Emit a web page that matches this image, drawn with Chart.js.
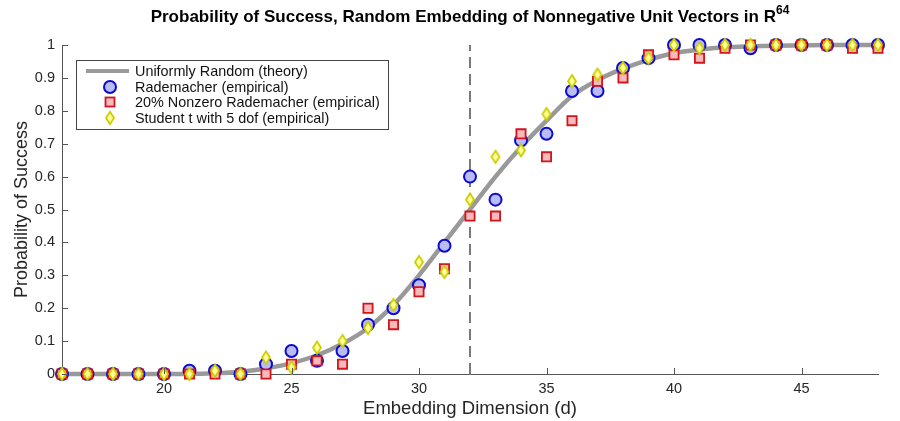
<!DOCTYPE html>
<html>
<head>
<meta charset="utf-8">
<script src="https://cdn.jsdelivr.net/npm/chart.js@4"></script>
<style>
  html, body { margin: 0; padding: 0; background: #fff; }
  #wrap { position: relative; width: 900px; height: 421px; }
  #title {
    position: absolute; left: 0; top: 1px; width: 940px; text-align: center;
    font: bold 17px "Liberation Sans", Arial, sans-serif; color: #000; line-height: 20px;
  }
  #title sup { font-size: 12px; position: relative; top: -1px; }
</style>
</head>
<body>
<div id="wrap">
  <div id="title">Probability of Success, Random Embedding of Nonnegative Unit Vectors in R<sup>64</sup></div>
  <canvas id="chart" width="900" height="421"></canvas>
</div>
<script>
// -------- Data --------
const dims = [16,17,18,19,20,21,22,23,24,25,26,27,28,29,30,31,32,33,34,35,36,37,38,39,40,41,42,43,44,45,46,47,48];
const theory = [0,0,0,0,0,0,0.002,0.007,0.017,0.033,0.057,0.092,0.14,0.21,0.3,0.4,0.5,0.6,0.69,0.77,0.845,0.893,0.928,0.955,0.975,0.986,0.993,0.996,0.998,0.999,1,1,1];
const rademacher = [0,0,0,0,0,0.01,0.01,0,0.03,0.07,0.04,0.07,0.15,0.2,0.27,0.39,0.6,0.53,0.71,0.73,0.86,0.86,0.93,0.96,1,1,1,0.99,1,1,1,1,1];
const sparseRademacher = [0,0,0,0,0,0,0,0,0,0.03,0.04,0.03,0.2,0.15,0.25,0.32,0.48,0.48,0.73,0.66,0.77,0.89,0.9,0.97,0.97,0.96,0.99,1,1,1,1,0.99,0.99];
const studentT = [0,0,0,0,0,0,0.01,0,0.05,0.02,0.08,0.1,0.14,0.21,0.34,0.31,0.53,0.66,0.68,0.79,0.89,0.91,0.93,0.96,1,0.99,1,1,1,1,1,1,1];
const xTicks = [20,25,30,35,40,45];
const yTicks = [0,0.1,0.2,0.3,0.4,0.5,0.6,0.7,0.8,0.9,1];
const criticalDim = 32;

const seriesNames = [
    "Uniformly Random (theory)",
    "Rademacher (empirical)",
    "20% Nonzero Rademacher (empirical)",
    "Student t with 5 dof (empirical)"
];

// -------- Styles --------
const FONT = '"Liberation Sans", Arial, sans-serif';
const circleFill = "#b9bbf4", circleEdge = "#0a0ad0";
const squareFill = "#f7b9bb", squareEdge = "#d0161c";
const diamondFill = "#ffff9a", diamondEdge = "#cccc00";

// narrow diamond marker
function makeDiamond() {
    const c = document.createElement("canvas");
    c.width = 12; c.height = 16;
    const g = c.getContext("2d");
    g.beginPath();
    g.moveTo(6, 1.8); g.lineTo(10, 8); g.lineTo(6, 14.2); g.lineTo(2, 8); g.closePath();
    g.fillStyle = diamondFill; g.fill();
    g.lineWidth = 1.8; g.strokeStyle = diamondEdge; g.stroke();
    return c;
}
const diamondImg = makeDiamond();

const toPts = arr => arr.map((v, i) => ({ x: dims[i], y: v }));

// -------- Plugins --------
const innerTicks = {
    id: "innerTicks",
    afterDraw(chart) {
        const { ctx, chartArea, scales } = chart;
        ctx.save();
        ctx.strokeStyle = "#555";
        ctx.lineWidth = 1;
        yTicks.forEach(v => {
            const y = Math.round(scales.y.getPixelForValue(v)) + 0.5;
            ctx.beginPath(); ctx.moveTo(chartArea.left, y); ctx.lineTo(chartArea.left + 6, y); ctx.stroke();
        });
        xTicks.forEach(v => {
            const x = Math.round(scales.x.getPixelForValue(v)) + 0.5;
            ctx.beginPath(); ctx.moveTo(x, chartArea.bottom); ctx.lineTo(x, chartArea.bottom - 6); ctx.stroke();
        });
        ctx.restore();
    }
};

const boxLegend = {
    id: "boxLegend",
    afterDraw(chart) {
        const ctx = chart.ctx;
        const left = 76, top = 60, w = 312, h = 69;
        ctx.save();
        ctx.fillStyle = "#fff";
        ctx.fillRect(left, top, w, h);
        ctx.strokeStyle = "#444";
        ctx.lineWidth = 1;
        ctx.strokeRect(left + 0.5, top + 0.5, w, h);

        const rows = [71, 87, 102, 118];
        const mx = 110;
        // theory line
        ctx.strokeStyle = "#999";
        ctx.lineWidth = 4;
        ctx.beginPath(); ctx.moveTo(86, rows[0]); ctx.lineTo(129, rows[0]); ctx.stroke();
        // circle
        ctx.beginPath(); ctx.arc(mx, rows[1], 6, 0, Math.PI * 2);
        ctx.fillStyle = circleFill; ctx.fill();
        ctx.lineWidth = 2; ctx.strokeStyle = circleEdge; ctx.stroke();
        // square
        ctx.fillStyle = squareFill; ctx.fillRect(mx - 4.5, rows[2] - 4.5, 9, 9);
        ctx.lineWidth = 1.8; ctx.strokeStyle = squareEdge; ctx.strokeRect(mx - 4.5, rows[2] - 4.5, 9, 9);
        // diamond
        ctx.drawImage(diamondImg, mx - 6, rows[3] - 8);

        ctx.fillStyle = "#111";
        ctx.font = "14.4px " + FONT;
        ctx.textBaseline = "middle";
        seriesNames.forEach((name, i) => ctx.fillText(name, 135, rows[i] + 1));
        ctx.restore();
    }
};

// -------- Chart --------
new Chart(document.getElementById("chart"), {
    type: "scatter",
    data: {
        datasets: [
            {
                label: seriesNames[3],
                data: toPts(studentT),
                pointStyle: diamondImg,
                clip: false,
                order: 0
            },
            {
                label: seriesNames[2],
                data: toPts(sparseRademacher),
                pointStyle: "rect",
                pointRadius: 6.5,
                backgroundColor: squareFill,
                borderColor: squareEdge,
                borderWidth: 1.8,
                clip: false,
                order: 1
            },
            {
                label: seriesNames[1],
                data: toPts(rademacher),
                pointStyle: "circle",
                pointRadius: 6,
                backgroundColor: circleFill,
                borderColor: circleEdge,
                borderWidth: 2,
                clip: false,
                order: 2
            },
            {
                label: seriesNames[0],
                type: "line",
                data: toPts(theory),
                borderColor: "#999",
                borderWidth: 4.5,
                pointRadius: 0,
                cubicInterpolationMode: "monotone",
                fill: false,
                clip: false,
                order: 3
            },
            {
                label: "d = 32",
                type: "line",
                data: [{ x: criticalDim, y: 0 }, { x: criticalDim, y: 1 }],
                borderColor: "#222",
                borderWidth: 1.2,
                borderDash: [11, 6],
                pointRadius: 0,
                fill: false,
                order: 4
            }
        ]
    },
    options: {
        responsive: false,
        animation: false,
        devicePixelRatio: 1,
        layout: { padding: { top: 45, right: 22, left: 0, bottom: 0 } },
        plugins: {
            legend: { display: false },
            tooltip: { enabled: false }
        },
        scales: {
            x: {
                type: "linear",
                min: 16,
                max: 48,
                afterBuildTicks: s => { s.ticks = xTicks.map(v => ({ value: v })); },
                afterFit: s => { s.height = 47; },
                grid: { display: false, drawTicks: false },
                border: { display: true, color: "#555", width: 1 },
                ticks: { color: "#262626", font: { family: FONT, size: 14.5 }, padding: 6, maxRotation: 0 },
                title: {
                    display: true,
                    text: "Embedding Dimension (d)",
                    color: "#262626",
                    font: { family: FONT, size: 18.5 },
                    padding: { top: 0, bottom: 1 }
                }
            },
            y: {
                type: "linear",
                min: 0,
                max: 1,
                afterBuildTicks: s => { s.ticks = yTicks.map(v => ({ value: v })); },
                afterFit: s => { s.width = 62; },
                grid: { display: false, drawTicks: false },
                border: { display: true, color: "#555", width: 1 },
                ticks: {
                    color: "#262626",
                    font: { family: FONT, size: 14.5 },
                    padding: 7,
                    callback: v => String(Math.round(v * 10) / 10)
                },
                title: {
                    display: true,
                    text: "Probability of Success",
                    color: "#262626",
                    font: { family: FONT, size: 18 },
                    padding: { top: 11, bottom: 0 }
                }
            }
        }
    },
    plugins: [innerTicks, boxLegend]
});
</script>
</body>
</html>
